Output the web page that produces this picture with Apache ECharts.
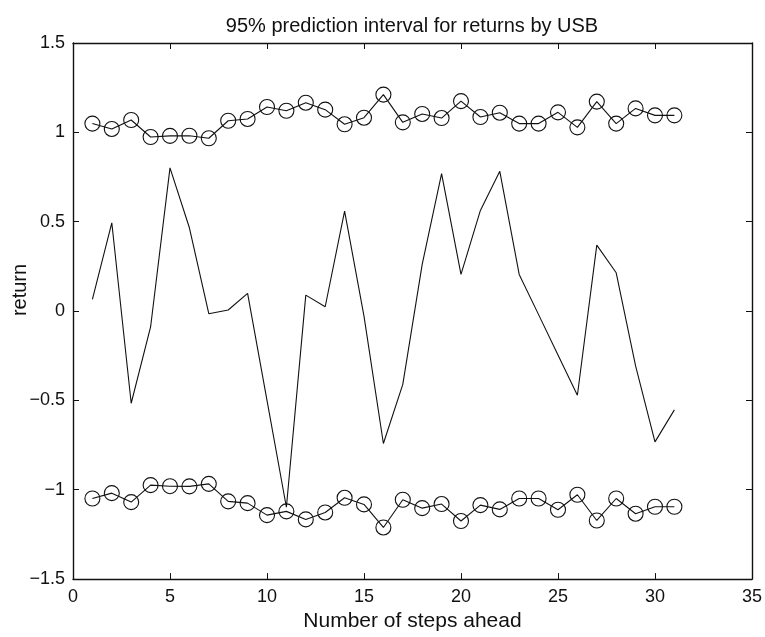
<!DOCTYPE html>
<html>
<head>
<meta charset="utf-8">
<script src="https://cdn.jsdelivr.net/npm/echarts@6/dist/echarts.min.js"></script>
<style>html,body{margin:0;padding:0;background:#fff}#c{width:765px;height:637px}</style>
</head>
<body>
<div id="c"></div>
<script>
var steps = [1,2,3,4,5,6,7,8,9,10,11,12,13,14,15,16,17,18,19,20,21,22,23,24,25,26,27,28,29,30,31];
var returns = [0.065,0.494,-0.516,-0.089,0.801,0.466,-0.015,0.006,0.099,-0.50,-1.098,0.089,0.024,0.559,-0.028,-0.741,-0.41,0.261,0.769,0.205,0.563,0.782,0.205,-0.02,-0.246,-0.471,0.369,0.214,-0.307,-0.732,-0.553];
var upper = [1.049,1.019,1.069,0.974,0.980,0.981,0.967,1.065,1.075,1.142,1.121,1.166,1.127,1.045,1.082,1.211,1.056,1.103,1.080,1.175,1.086,1.110,1.049,1.049,1.112,1.028,1.172,1.049,1.134,1.095,1.095];
var lower = [-1.049,-1.019,-1.069,-0.974,-0.980,-0.981,-0.967,-1.065,-1.075,-1.142,-1.121,-1.166,-1.127,-1.045,-1.082,-1.211,-1.056,-1.103,-1.080,-1.175,-1.086,-1.110,-1.049,-1.049,-1.112,-1.028,-1.172,-1.049,-1.134,-1.095,-1.095];
var xTicks = [0,5,10,15,20,25,30,35];
var yTicks = [-1.5,-1,-0.5,0,0.5,1,1.5];

function pairs(xs, ys){ return xs.map(function(x,i){return [x, ys[i]];}); }
function yFmt(v){ return (v<0 ? '\u2212' : '') + Math.abs(v); }

var font = 'Liberation Sans, Arial, Helvetica, sans-serif';
var chart = echarts.init(document.getElementById('c'), null, {renderer:'canvas'});
var axLine = {show:true, onZero:false, lineStyle:{color:'#111', width:1.4}};
var tick = {show:true, inside:true, length:6, lineStyle:{color:'#111', width:1}};
chart.setOption({
  animation:false,
  backgroundColor:'#fff',
  title:{text:'95% prediction interval for returns by USB', left:407, top:11, textAlign:'center',
    textStyle:{fontFamily:font, fontSize:20, fontWeight:'normal', color:'#111'}},
  grid:{left:73, right:12, top:43, bottom:57},
  xAxis:[
    {type:'value', min:0, max:35, interval:5, position:'bottom', axisLine:axLine, axisTick:tick,
     splitLine:{show:false},
     axisLabel:{fontFamily:font, fontSize:18, color:'#111', margin:9},
     name:'Number of steps ahead', nameLocation:'middle', nameGap:28,
     nameTextStyle:{fontFamily:font, fontSize:21, color:'#111'}},
    {type:'value', min:0, max:35, interval:5, position:'top', axisLine:axLine, axisTick:tick,
     splitLine:{show:false}, axisLabel:{show:false}}
  ],
  yAxis:[
    {type:'value', min:-1.5, max:1.5, interval:0.5, position:'left', axisLine:axLine, axisTick:tick,
     splitLine:{show:false},
     axisLabel:{fontFamily:font, fontSize:18, color:'#111', margin:8, formatter:yFmt}},
    {type:'value', min:-1.5, max:1.5, interval:0.5, position:'right', axisLine:axLine, axisTick:tick,
     splitLine:{show:false}, axisLabel:{show:false}}
  ],
  graphic:[{type:'text', x:20, y:290, rotation:Math.PI/2,
    style:{text:'return', font:'20px ' + font, fill:'#111', align:'center', verticalAlign:'middle'}}],
  series:[
    {type:'line', data:pairs(steps, returns), showSymbol:false, symbol:'none',
     lineStyle:{color:'#111', width:1.1}},
    {type:'line', data:pairs(steps, upper), symbol:'circle', symbolSize:15,
     itemStyle:{color:'rgba(0,0,0,0)', borderColor:'#111', borderWidth:1.1},
     lineStyle:{color:'#111', width:1.1}},
    {type:'line', data:pairs(steps, lower), symbol:'circle', symbolSize:15,
     itemStyle:{color:'rgba(0,0,0,0)', borderColor:'#111', borderWidth:1.1},
     lineStyle:{color:'#111', width:1.1}}
  ]
});
</script>
</body>
</html>
